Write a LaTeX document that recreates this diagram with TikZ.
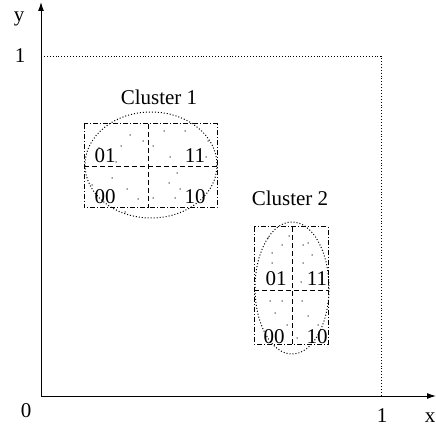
\documentclass[tikz,border=0pt]{standalone}
\usepackage{fontspec}
\setmainfont{Liberation Serif}
\usetikzlibrary{arrows.meta}
\tikzset{
  lbl/.style={anchor=base, inner sep=0pt, font=\fontsize{21}{25}\selectfont},
  axis/.style={line width=1pt, -{Latex[length=9pt,width=6pt]}},
  unitline/.style={line width=0.9pt, dotted},
  cellbox/.style={line width=1pt, dash pattern=on 5pt off 2pt on 1pt off 2pt},
  divider/.style={line width=1pt, dash pattern=on 5pt off 3pt},
  hull/.style={line width=1pt, dotted},
  pt/.style={circle, fill=black!80, inner sep=0pt, minimum size=1.5pt}
}
\begin{document}
\begin{tikzpicture}[x=1pt, y=-1pt]
  \useasboundingbox (0,0) rectangle (436,430);

  % axes
  \coordinate (O) at (41,396);
  \coordinate (Xend) at (436,396);
  \coordinate (Yend) at (41,2);
  \coordinate (X1) at (381,396);
  \coordinate (Y1) at (41,56);
  \coordinate (C11) at (381,56);
  \draw[axis] (O) -- (Xend);
  \draw[axis] (O) -- (Yend);
  \draw[unitline] (Y1) -- (C11) -- (X1);

  \node[lbl] (ylab) at (19,22) {y};
  \node[lbl] (yone) at (20,63) {1};
  \node[lbl] (zero) at (26,417) {0};
  \node[lbl] (xone) at (382,422) {1};
  \node[lbl] (xlab) at (430,422) {x};

  % cluster 1
  \node[lbl] (c1title) at (159,105) {Cluster 1};
  \draw[cellbox] (84,124) rectangle (217,208);
  \draw[divider] (148,124) -- (148,208);
  \draw[divider] (84,167) -- (217,167);
  \draw[hull] (151,165) ellipse [x radius=66, y radius=53];
  \node[lbl] (c1a) at (105,163) {01};
  \node[lbl] (c1b) at (195,163) {11};
  \node[lbl] (c1c) at (105,204) {00};
  \node[lbl] (c1d) at (195,204) {10};
  \foreach \p in {(130,135),(121,146),(143,141),(116,162),(164,131),(185,131),
                  (153,146),(170,157),(206,157),(208,141),(112,178),(127,189),
                  (138,199),(125,212),(177,173),(169,183),(180,189),(153,198),
                  (175,198),(99,148),(92,185)}
    \node[pt] at \p {};

  % cluster 2
  \node[lbl] (c2title) at (290,206) {Cluster 2};
  \draw[cellbox] (254,227) rectangle (328,344);
  \draw[divider] (292,227) -- (292,344);
  \draw[divider] (254,290) -- (328,290);
  \draw[hull] (292,288) ellipse [x radius=37, y radius=66];
  \node[lbl] (c2a) at (276,285) {01};
  \node[lbl] (c2b) at (317,285) {11};
  \node[lbl] (c2c) at (274,343) {00};
  \node[lbl] (c2d) at (317,343) {10};
  \foreach \p in {(272,253),(282,245),(303,245),(308,243),(272,263),(303,263),
                  (312,255),(301,282),(270,301),(282,301),(302,301),(275,313),
                  (308,316),(287,325),(318,325),(297,338),(289,236),(268,238)}
    \node[pt] at \p {};
\end{tikzpicture}
\end{document}
